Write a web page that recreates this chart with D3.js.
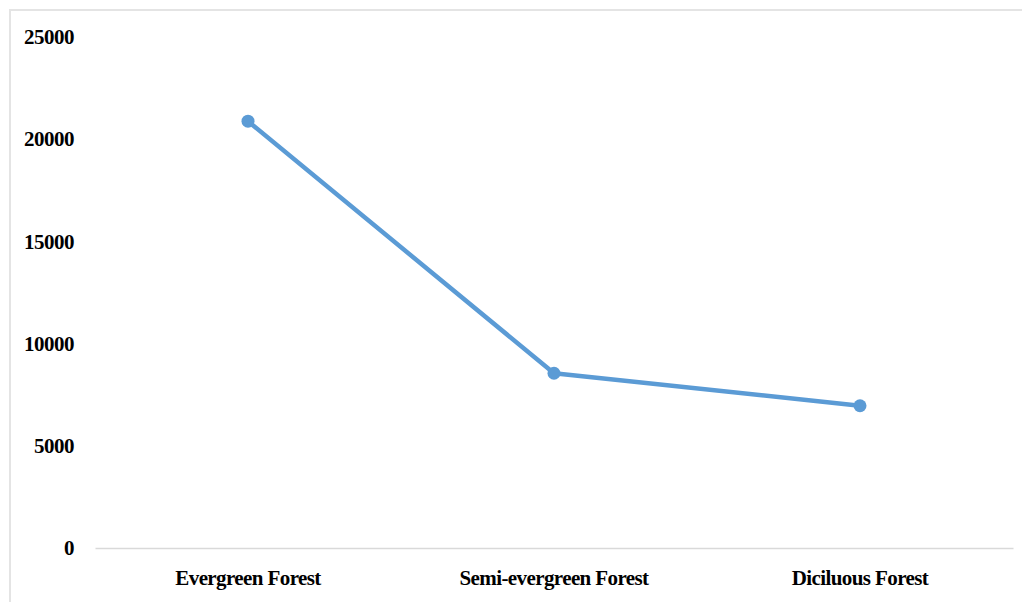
<!DOCTYPE html>
<html>
<head>
<meta charset="utf-8">
<script src="https://cdn.jsdelivr.net/npm/d3@7"></script>
<style>
html,body{margin:0;padding:0;background:#fff;}
svg{display:block;}
</style>
</head>
<body>
<svg id="chart" width="1022" height="602"></svg>
<script>
const categories = ["Evergreen Forest", "Semi-evergreen Forest", "Diciluous Forest"];
const values = [20880, 8550, 6960];
const yTicks = [0, 5000, 10000, 15000, 20000, 25000];

const svg = d3.select("#chart");
const font = "'Liberation Serif','Times New Roman',serif";

// outer frame (cropped at right/bottom)
svg.append("path")
  .attr("d", "M10,602 L10,10 L1022,10")
  .attr("fill", "none")
  .attr("stroke", "#e4e4e4")
  .attr("stroke-width", 2);

const x = d3.scaleBand().domain(categories).range([95, 1013]);
const y = d3.scaleLinear().domain([0, 25000]).range([548, 37]);

// y axis labels
const yAxis = d3.axisLeft(y).tickValues(yTicks).tickSize(0).tickPadding(0).tickFormat(d3.format("d"));
const yg = svg.append("g").attr("transform", "translate(74,0)").call(yAxis);
yg.select(".domain").remove();
yg.selectAll("text")
  .attr("font-family", font)
  .attr("font-weight", "bold")
  .attr("font-size", "21px")
  .attr("fill", "#000")
  .attr("letter-spacing", "-0.5px");

// x axis (baseline + labels)
const xAxis = d3.axisBottom(x).tickSize(0).tickPadding(22);
const xg = svg.append("g").attr("transform", "translate(0,548)").call(xAxis);
xg.select(".domain").attr("stroke", "#d9d9d9").attr("stroke-width", 1.5);
xg.selectAll("text")
  .attr("font-family", font)
  .attr("font-weight", "bold")
  .attr("font-size", "21px")
  .attr("fill", "#000")
  .attr("letter-spacing", "-0.6px");

const cx = d => x(d) + x.bandwidth() / 2;
const line = d3.line().x((d, i) => cx(categories[i])).y(d => y(d));

svg.append("path")
  .datum(values)
  .attr("d", line)
  .attr("fill", "none")
  .attr("stroke", "#5b9bd5")
  .attr("stroke-width", 4.5)
  .attr("stroke-linejoin", "round");

svg.selectAll("circle.pt")
  .data(values)
  .join("circle")
  .attr("class", "pt")
  .attr("cx", (d, i) => cx(categories[i]))
  .attr("cy", d => y(d))
  .attr("r", 6.5)
  .attr("fill", "#5b9bd5");
</script>
</body>
</html>
